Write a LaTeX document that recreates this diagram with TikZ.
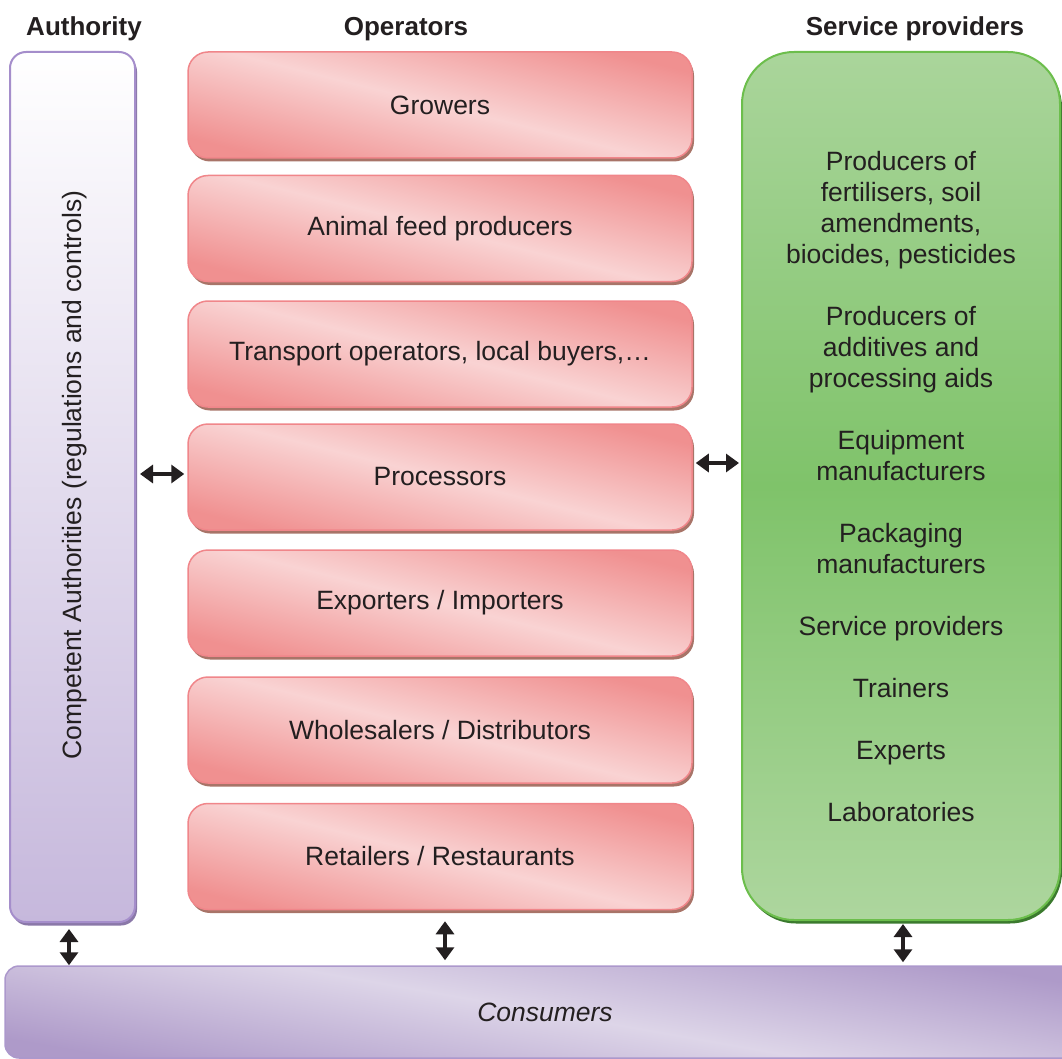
\documentclass[tikz,border=0pt]{standalone}
\usepackage{fontspec}
\setmainfont{Liberation Sans}
\usetikzlibrary{arrows.meta,shadows}
\definecolor{pklight}{HTML}{F9D3D3}
\definecolor{pkdark}{HTML}{F09090}
\definecolor{pkborder}{HTML}{F0868A}
\definecolor{pkshadow}{HTML}{A87468}
\definecolor{aubottom}{HTML}{C6B8DC}
\definecolor{auborder}{HTML}{A58ECB}
\definecolor{aushadow}{HTML}{8A78A8}
\definecolor{grtop}{HTML}{AAD59B}
\definecolor{grmid}{HTML}{7FC36A}
\definecolor{grbot}{HTML}{ADD69E}
\definecolor{grborder}{HTML}{6CBE4C}
\definecolor{grshadow}{HTML}{3B7A2E}
\definecolor{cnlight}{HTML}{DDD5E8}
\definecolor{cndark}{HTML}{AE9AC9}
\definecolor{cnborder}{HTML}{AC98CC}
\definecolor{txt}{HTML}{231F20}
\begin{document}
\begin{tikzpicture}[x=1pt,y=-1pt,
  every node/.style={text=txt},
  body/.style={font=\fontsize{26.5}{31}\selectfont},
  head/.style={font=\fontsize{26}{31}\selectfont\bfseries},
  opbox/.style={body, rectangle, minimum width=504pt, minimum height=106pt, inner sep=0pt,
    rounded corners=20pt, draw=pkborder, line width=1.5pt,
    top color=pkdark, bottom color=pkdark, middle color=pklight, shading angle=-14,
    drop shadow={shadow xshift=2pt, shadow yshift=-3.5pt, fill=pkshadow, opacity=1}},
  authbox/.style={rectangle, minimum width=125pt, minimum height=870pt, inner sep=0pt,
    rounded corners=16pt, draw=auborder, line width=2pt,
    top color=white, bottom color=aubottom,
    drop shadow={shadow xshift=2pt, shadow yshift=-3.5pt, fill=aushadow, opacity=1}},
  spbox/.style={rectangle, minimum width=318pt, minimum height=868pt, inner sep=0pt,
    rounded corners=52pt, draw=grborder, line width=2pt,
    top color=grtop, bottom color=grbot, middle color=grmid,
    drop shadow={shadow xshift=2pt, shadow yshift=-3.5pt, fill=grshadow, opacity=1}},
  cnbox/.style={body, rectangle, minimum width=1080pt, minimum height=92pt, inner sep=0pt,
    rounded corners=14pt, draw=cnborder, line width=1.5pt,
    top color=cndark, bottom color=cndark, middle color=cnlight, shading angle=-10},
  dbl/.style={draw=txt, line width=3.5pt,
    {Triangle[length=13pt,width=18pt]}-{Triangle[length=13pt,width=18pt]}}
]
\useasboundingbox (0,0) rectangle (1062,1059);

% headers
\node[head] (hauth) at (84,29) {Authority};
\node[head] (hop) at (406,29) {Operators};
\node[head] (hsp) at (915,29) {Service providers};

% authority
\node[authbox] (auth) at (72.5,487) {};
\node[body, rotate=90] (authtxt) at (75,475) {Competent Authorities (regulations and controls)};

% operators
\node[opbox] (grow) at (440,105) {Growers};
\node[opbox] (feed) at (440,228.5) {Animal feed producers};
\node[opbox] (trans) at (440,354) {Transport operators, local buyers,…};
\node[opbox] (proc) at (440,477) {Processors};
\node[opbox] (exp) at (440,603) {Exporters / Importers};
\node[opbox] (whole) at (440,730) {Wholesalers / Distributors};
\node[opbox] (ret) at (440,856.5) {Retailers / Restaurants};

% service providers
\node[spbox] (sp) at (901,486) {};
\node[body, align=center] (sptxt) at (901,487) {Producers of\\fertilisers, soil\\amendments,\\biocides, pesticides\\[31pt]
Producers of\\additives and\\processing aids\\[31pt]
Equipment\\manufacturers\\[31pt]
Packaging\\manufacturers\\[31pt]
Service providers\\[31pt]
Trainers\\[31pt]
Experts\\[31pt]
Laboratories};

% consumers
\node[cnbox] (cons) at (545,1012) {\itshape Consumers};

% arrows
\draw[dbl] ([xshift=4pt,yshift=3pt]auth.east |- proc.west) -- ([xshift=-3pt,yshift=3pt]proc.west);
\draw[dbl] ([xshift=3pt,yshift=14pt]proc.east) -- ([xshift=-2pt,yshift=14pt]proc.east -| sp.west);
\draw[dbl] ([xshift=-3.5pt,yshift=-6pt]auth.south) -- ([xshift=-3.5pt]auth.south |- cons.north);
\draw[dbl] ([xshift=5pt,yshift=-11pt]ret.south) -- ([xshift=5pt,yshift=5pt]ret.south |- cons.north);
\draw[dbl] ([xshift=2pt,yshift=-3pt]sp.south) -- ([xshift=2pt,yshift=3pt]sp.south |- cons.north);
\end{tikzpicture}
\end{document}
